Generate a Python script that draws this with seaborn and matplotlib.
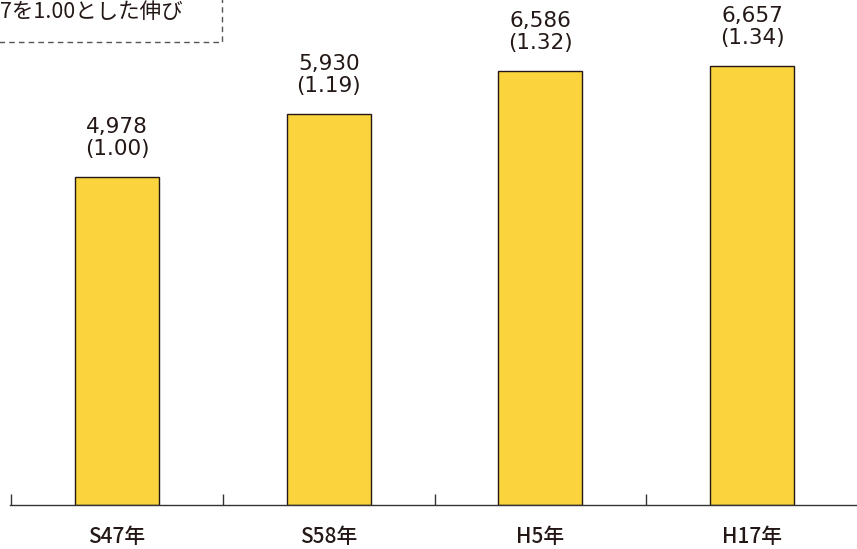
import matplotlib
matplotlib.use("Agg")
import matplotlib.pyplot as plt
import seaborn as sns
import pandas as pd
from matplotlib.patches import Rectangle


# DATA

years = ["S47年", "S58年", "H5年", "H17年"]
values = [4978, 5930, 6586, 6657]
ratios = ["(1.00)", "(1.19)", "(1.32)", "(1.34)"]
note = "7を1.00とした伸び"

df = pd.DataFrame({"year": years, "value": values})


# STYLE

sns.set_theme(style="white")
plt.rcParams["font.family"] = ["DejaVu Sans", "Noto Sans CJK JP"]

text_color = "#231815"
bar_color = "#FBD33C"


# FIGURE

fig = plt.figure(figsize=(8.57, 5.49), dpi=100)
ax = fig.add_axes([10 / 857, 44 / 549, 1 - 10 / 857, 1 - 44 / 549])

sns.barplot(
    x="year",
    y="value",
    data=df,
    color=bar_color,
    saturation=1,
    width=0.397,
    edgecolor=text_color,
    linewidth=1,
    ax=ax
)

ax.set_xlim(-0.505, 3.495)
ax.set_ylim(0, 7657)

for i, (v, r) in enumerate(zip(values, ratios)):
    ax.annotate(
        f"{v:,}\n{r}",
        xy=(i, v),
        xytext=(0, 13),
        textcoords="offset points",
        ha="center",
        va="bottom",
        fontsize=15.5,
        linespacing=1.1,
        color=text_color
    )

# spines and ticks
for s in ["top", "right", "left"]:
    ax.spines[s].set_visible(False)
ax.spines["bottom"].set_color("#333333")
ax.spines["bottom"].set_linewidth(1)

ax.set_yticks([])
ax.set_xticks(range(len(years)))
ax.set_xticklabels(
    years,
    family=["Noto Sans CJK JP"],
    fontweight="medium",
    fontsize=15,
    color=text_color
)
ax.tick_params(axis="x", which="major", bottom=True, length=0, pad=15)
ax.set_xticks([-0.5, 0.5, 1.5, 2.5], minor=True)
ax.tick_params(axis="x", which="minor", bottom=True, direction="in",
               length=8, width=1, color="#333333")
ax.set_xlabel("")
ax.set_ylabel("")


# NOTE BOX (cropped at top-left)

box = Rectangle(
    (-0.05, 1 - 42 / 549),
    0.05 + 222 / 857,
    0.2,
    transform=fig.transFigure,
    fill=False,
    linestyle=(0, (4, 3)),
    linewidth=1,
    edgecolor="#555555",
    clip_on=False
)
fig.patches.append(box)

fig.text(
    0,
    1 - 12 / 549,
    note,
    ha="left",
    va="center",
    fontsize=15.5,
    family=["Noto Sans CJK JP", "DejaVu Sans"],
    color=text_color
)

fig.savefig("out.png", dpi=100)
